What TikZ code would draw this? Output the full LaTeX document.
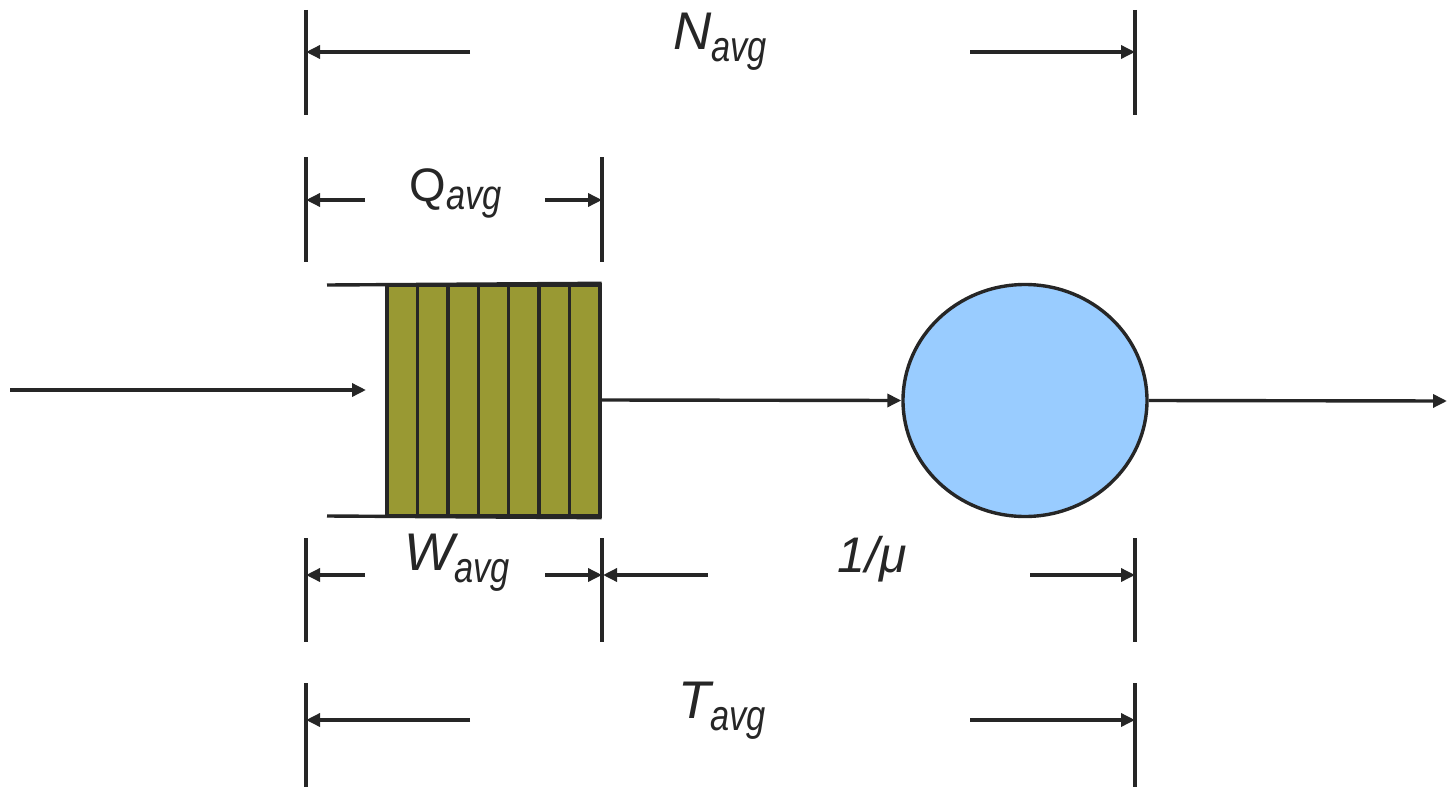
\documentclass[tikz,border=0pt]{standalone}
\usepackage{fontspec}
\setmainfont{Liberation Sans}
\usepackage{graphicx}
\usetikzlibrary{arrows.meta,shapes.geometric}
\definecolor{ink}{RGB}{38,38,38}
\definecolor{olive}{RGB}{153,153,51}
\definecolor{srv}{RGB}{153,204,255}
\newcommand{\mainlet}[1]{{\fontsize{53}{53}\selectfont\itshape #1}}
\newcommand{\sublet}[1]{{\fontsize{43}{43}\selectfont\itshape\raisebox{-12pt}{\scalebox{0.8}[1]{#1}}}}
\begin{document}
\begin{tikzpicture}[x=1pt,y=-1pt,
  ln/.style={draw=ink,line width=3.4pt},
  arr/.style={ln,-{Triangle[length=14pt,width=13pt]}},
  cell/.style={draw=ink,fill=olive,line width=3.4pt,rectangle,minimum width=30.43pt,minimum height=231pt,inner sep=0pt},
  lbl/.style={text=ink,anchor=base,inner sep=0pt}]
\useasboundingbox (0,0) rectangle (1448,789);
% queue cells
\foreach \i in {1,...,7} {
  \node[cell] (q\i) at ({387+30.43*(\i-0.5)},400.5) {};
}
\coordinate (qt) at (327,285);
\coordinate (qb) at (327,516);
\draw[ln] (qt) -- (q7.north east);
\draw[ln] (qb) -- (q7.south east);
% server
\node[ellipse,draw=ink,fill=srv,line width=3.4pt,minimum width=244pt,minimum height=232pt,inner sep=0pt] (server) at (1025,400.5) {};
% flow arrows
\coordinate (in0) at (10,390);
\coordinate (in1) at (366,390);
\coordinate (out) at (1447,401);
\draw[arr] (in0) -- (in1);
\draw[arr] (q7.east |- 0,400) -- (server.west);
\draw[arr] (server.east) -- (out);
% vertical bars
\foreach \n/\x/\ya/\yb in {na/306/10/115, nb/1135/10/115, qa/306/157/262, qb2/602/157/262,
                           wa/306/538/642, wb/602/538/642, wc/1135/538/642,
                           ta/306/683/787, tb/1135/683/787} {
  \coordinate (\n1) at (\x,\ya);
  \coordinate (\n2) at (\x,\yb);
  \draw[ln] (\n1) -- (\n2);
}
% N dimension
\coordinate (n1s) at (470,52); \coordinate (n1e) at (306,52);
\coordinate (n2s) at (970,52); \coordinate (n2e) at (1135,52);
\draw[arr] (n1s) -- (n1e);
\draw[arr] (n2s) -- (n2e);
\node[lbl] (nl) at (720,50) {\mainlet{N}\sublet{avg}};
% Q dimension
\coordinate (q1s) at (365,200); \coordinate (q1e) at (306,200);
\coordinate (q2s) at (545,200); \coordinate (q2e) at (602,200);
\draw[arr] (q1s) -- (q1e);
\draw[arr] (q2s) -- (q2e);
\node[lbl] (ql) at (456,201) {{\fontsize{47}{47}\selectfont Q}{\fontsize{42}{42}\selectfont\itshape\raisebox{-8pt}{\scalebox{0.82}[1]{avg}}}};
% W dimension
\coordinate (w1s) at (365,575); \coordinate (w1e) at (306,575);
\coordinate (w2s) at (545,575); \coordinate (w2e) at (602,575);
\draw[arr] (w1s) -- (w1e);
\draw[arr] (w2s) -- (w2e);
\node[lbl] (wl) at (457,570) {\mainlet{W}\sublet{avg}};
% 1/mu dimension
\coordinate (m1s) at (708,575); \coordinate (m1e) at (603,575);
\coordinate (m2s) at (1030,575); \coordinate (m2e) at (1135,575);
\draw[arr] (m1s) -- (m1e);
\draw[arr] (m2s) -- (m2e);
\node[lbl] (ml) at (872,572) {{\fontsize{50}{50}\selectfont\itshape 1/μ}};
% T dimension
\coordinate (t1s) at (470,720); \coordinate (t1e) at (306,720);
\coordinate (t2s) at (970,720); \coordinate (t2e) at (1135,720);
\draw[arr] (t1s) -- (t1e);
\draw[arr] (t2s) -- (t2e);
\node[lbl] (tl) at (722,718) {\mainlet{T}\sublet{avg}};
\end{tikzpicture}
\end{document}
